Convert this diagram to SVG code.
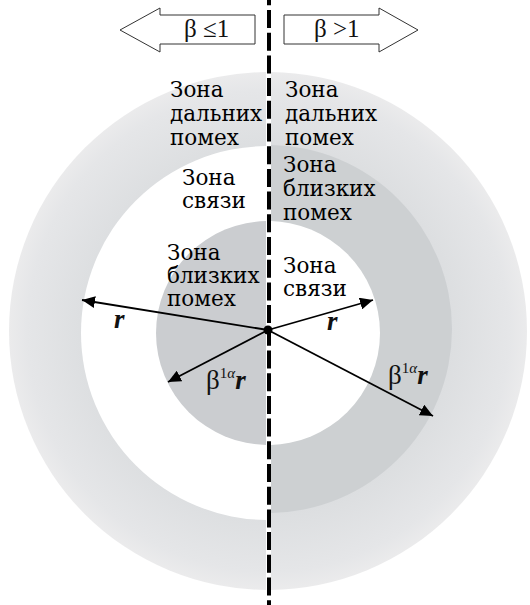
<svg xmlns="http://www.w3.org/2000/svg" width="530" height="605" viewBox="0 0 530 605">
<style>
.zt{font-family:"DejaVu Serif","Liberation Serif",serif;font-size:21.5px;fill:#000}
.tt{font-family:"Liberation Serif","Times New Roman",serif;font-size:25px;fill:#111}
.rl{font-family:"Liberation Serif",serif;font-style:italic;font-weight:bold;font-size:27px;fill:#111}
.bl{font-family:"Liberation Serif",serif;font-size:27px;fill:#111}
.sp{font-family:"Liberation Serif",serif;font-size:15px;fill:#111}
.ar{stroke:#000;stroke-width:1.8;fill:none}
.ba{fill:#fff;stroke:#333;stroke-width:1}
</style>
<defs>
<radialGradient id="outer" gradientUnits="userSpaceOnUse" cx="268" cy="331" r="259">
<stop offset="0.7" stop-color="#dcdee0"/>
<stop offset="0.93" stop-color="#e5e6e8"/>
<stop offset="1" stop-color="#ebebec"/>
</radialGradient>
<clipPath id="cl"><rect x="0" y="0" width="266" height="605"/></clipPath>
<clipPath id="cr"><rect x="271" y="0" width="259" height="605"/></clipPath>
<marker id="ah" markerUnits="userSpaceOnUse" markerWidth="14" markerHeight="12" refX="13" refY="6" orient="auto">
<path d="M0,0 L13,6 L0,12 Z" fill="#000"/>
</marker>
</defs>
<rect width="530" height="605" fill="#fff"/>
<g id="left-half" clip-path="url(#cl)">
<circle cx="268" cy="331" r="259" fill="url(#outer)"/>
<circle cx="268" cy="333" r="187" fill="#fff"/>
<circle cx="268" cy="333" r="112" fill="#cbcdd0"/>
</g>
<g id="right-half" clip-path="url(#cr)">
<circle cx="268" cy="331" r="259" fill="url(#outer)"/>
<circle cx="268" cy="329" r="184" fill="#cdd0d2"/>
<circle cx="268" cy="333" r="112" fill="#fff"/>
</g>
<g id="divider">
<line x1="269" y1="0" x2="269" y2="605" stroke="#000" stroke-width="4" stroke-dasharray="18 4.7" stroke-dashoffset="12.7"/>
</g>
<g id="arrow-left">
<polygon class="ba" points="120,30 160,8 160,15 255,15 255,44 160,44 160,52"/>
<text class="tt" x="184" y="37">β ≤1</text>
</g>
<g id="arrow-right">
<polygon class="ba" points="284,15 379,15 379,8 418,30 379,52 379,44 284,44"/>
<text class="tt" x="314" y="37">β &gt;1</text>
</g>
<g id="zone-far-left">
<text class="zt" x="170" y="97">Зона</text>
<text class="zt" x="170" y="121">дальних</text>
<text class="zt" x="170" y="145">помех</text>
</g>
<g id="zone-far-right">
<text class="zt" x="285" y="97">Зона</text>
<text class="zt" x="285" y="121">дальних</text>
<text class="zt" x="285" y="145">помех</text>
</g>
<g id="zone-link-left">
<text class="zt" x="182" y="185">Зона</text>
<text class="zt" x="182" y="208">связи</text>
</g>
<g id="zone-near-right">
<text class="zt" x="283" y="172">Зона</text>
<text class="zt" x="283" y="196">близких</text>
<text class="zt" x="283" y="220">помех</text>
</g>
<g id="zone-near-left">
<text class="zt" x="167" y="260">Зона</text>
<text class="zt" x="167" y="283">близких</text>
<text class="zt" x="167" y="306">помех</text>
</g>
<g id="zone-link-right">
<text class="zt" x="283" y="273">Зона</text>
<text class="zt" x="283" y="296">связи</text>
</g>
<g id="connectors">
<line class="ar" x1="268" y1="330" x2="82" y2="300" marker-end="url(#ah)"/>
<line class="ar" x1="268" y1="330" x2="373" y2="300" marker-end="url(#ah)"/>
<line class="ar" x1="268" y1="330" x2="168" y2="382" marker-end="url(#ah)"/>
<line class="ar" x1="268" y1="330" x2="433" y2="416" marker-end="url(#ah)"/>
</g>
<g id="center">
<circle cx="268" cy="330" r="4.5" fill="#000"/>
</g>
<g id="labels">
<text class="rl" x="114" y="328">r</text>
<text class="rl" x="327" y="330">r</text>
<text x="206" y="389"><tspan class="bl">β</tspan><tspan class="sp" dy="-11">1<tspan font-style="italic">α</tspan></tspan><tspan class="rl" dy="11">r</tspan></text>
<text x="388" y="384"><tspan class="bl">β</tspan><tspan class="sp" dy="-11">1<tspan font-style="italic">α</tspan></tspan><tspan class="rl" dy="11">r</tspan></text>
</g>
</svg>
